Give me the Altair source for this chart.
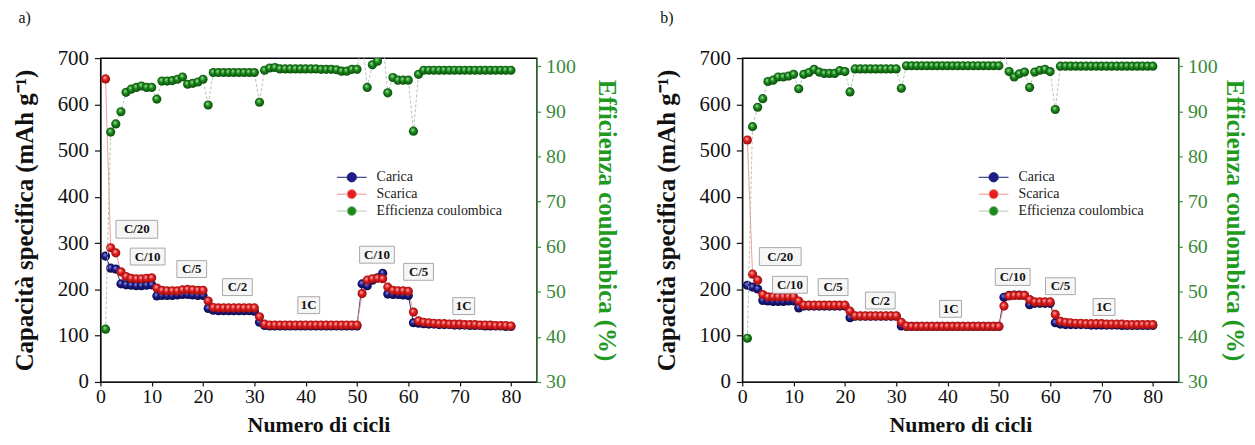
import altair as alt
import pandas as pd

cycles = list(range(1, 81))

# ---------------- panel a ----------------
carica_a = [272, 246, 244, 212, 210, 209, 208, 208, 209, 210,
            186, 187, 187, 187, 188, 189, 189, 188, 187, 187,
            159, 155, 154, 154, 154, 154, 154, 154, 154, 153,
            129, 122, 121, 121, 121, 121, 121, 121, 121, 121,
            121, 121, 121, 121, 121, 121, 121, 121, 121, 121,
            212, 208, 220, 225, 235, 190, 189, 189, 188, 187,
            128, 127, 126, 125, 125, 124, 124, 124, 123, 123,
            123, 122, 122, 122, 121, 121, 121, 121, 120, 120]
scarica_a = [655, 290, 279, 238, 228, 224, 223, 223, 224, 225,
             203, 198, 197, 197, 197, 199, 200, 199, 198, 198,
             175, 161, 160, 160, 160, 160, 160, 160, 160, 160,
             141, 125, 123, 123, 123, 123, 123, 123, 123, 123,
             123, 123, 123, 123, 123, 123, 123, 123, 123, 123,
             191, 220, 223, 224, 223, 205, 198, 197, 197, 196,
             151, 132, 129, 128, 127, 126, 126, 125, 125, 125,
             124, 124, 124, 123, 123, 123, 122, 122, 122, 121]
eff_a = [41.7, 85.4, 87.2, 89.9, 94.2, 94.9, 95.3, 95.6, 95.3, 95.3,
         92.7, 96.7, 96.7, 96.8, 97.1, 97.6, 96.0, 96.2, 96.5, 97.1,
         91.4, 98.6, 98.6, 98.6, 98.6, 98.6, 98.6, 98.6, 98.6, 98.6,
         92.0, 99.1, 99.6, 99.7, 99.4, 99.4, 99.4, 99.4, 99.4, 99.4,
         99.4, 99.4, 99.3, 99.3, 99.3, 99.2, 98.9, 98.9, 99.3, 99.3,
         106.0, 95.3, 100.3, 101.1, 106.0, 94.1, 97.5, 96.9, 96.9, 96.9,
         85.6, 98.2, 99.1, 99.1, 99.1, 99.1, 99.1, 99.1, 99.1, 99.1,
         99.1, 99.1, 99.1, 99.1, 99.1, 99.1, 99.1, 99.1, 99.1, 99.1]
ann_x_a = [7.1, 9.2, 17.8, 26.7, 40.6, 53.9, 62.0, 70.8]
ann_y_a = [330, 271, 244, 205, 166, 275, 238, 164]

# ---------------- panel b ----------------
carica_b = [209, 205, 201, 176, 175, 174, 174, 174, 175, 175,
            160, 164, 164, 164, 164, 164, 164, 164, 164, 164,
            139, 142, 142, 142, 142, 142, 142, 142, 142, 142,
            121, 120, 120, 120, 120, 120, 120, 120, 120, 120,
            120, 120, 120, 120, 120, 120, 120, 120, 120, 120,
            183, 187, 188, 188, 187, 167, 170, 170, 170, 170,
            128, 125, 124, 124, 124, 124, 124, 123, 123, 123,
            123, 123, 123, 122, 122, 122, 122, 122, 122, 122]
scarica_b = [523, 233, 220, 189, 184, 184, 184, 184, 184, 184,
             175, 166, 166, 166, 166, 166, 166, 166, 166, 166,
             153, 143, 143, 143, 143, 143, 143, 143, 143, 143,
             129, 121, 120, 120, 120, 120, 120, 120, 120, 120,
             120, 120, 120, 120, 120, 120, 120, 120, 120, 120,
             164, 186, 187, 187, 187, 178, 173, 173, 173, 173,
             146, 131, 129, 128, 127, 127, 126, 126, 126, 126,
             125, 125, 125, 125, 124, 124, 124, 124, 124, 124]
eff_b = [39.7, 86.6, 90.9, 92.8, 96.6, 96.9, 97.6, 97.6, 97.8, 98.2,
         95.0, 98.2, 98.6, 99.3, 98.7, 98.4, 98.4, 98.4, 99.0, 98.8,
         94.3, 99.4, 99.4, 99.4, 99.4, 99.4, 99.4, 99.4, 99.4, 99.4,
         95.1, 100.1, 100.1, 100.1, 100.1, 100.1, 100.1, 100.1, 100.1, 100.1,
         100.1, 100.1, 100.1, 100.1, 100.1, 100.1, 100.1, 100.1, 100.1, 100.1,
         103.0, 98.8, 97.6, 98.3, 98.7, 95.3, 98.7, 99.1, 99.3, 98.8,
         90.4, 100.0, 100.0, 100.0, 100.0, 100.0, 100.0, 100.0, 100.0, 100.0,
         100.0, 100.0, 100.0, 100.0, 100.0, 100.0, 100.0, 100.0, 100.0, 100.0]
ann_x_b = [7.4, 9.3, 17.7, 26.9, 40.6, 52.7, 62.0, 70.5]
ann_y_b = [271, 210, 205, 176, 158, 227, 207, 162]

ann_labels = ["C/20", "C/10", "C/5", "C/2", "1C", "C/10", "C/5", "1C"]

series_names = ["Carica", "Scarica", "Efficienza coulombica"]
ball_colors = ["#1c1c8c", "#e41e1e", "#1a8a1a"]
line_colors = ["#1c1c6c", "#f09090", "#b0c8b0"]

SERIF = "Liberation Serif"
x_ticks = list(range(0, 81, 10))
left_ticks = list(range(0, 701, 100))
right_ticks = list(range(30, 101, 10))

box_labels = ["C/20", "C/10", "C/5", "C/2", "1C"]
box_paths = ["M-2.1,-0.9H2.1V0.9H-2.1Z", "M-1.75,-0.85H1.75V0.85H-1.75Z",
             "M-1.5,-0.85H1.5V0.85H-1.5Z", "M-1.5,-0.85H1.5V0.85H-1.5Z",
             "M-1.1,-0.85H1.1V0.85H-1.1Z"]

LEG_SYMBOL = "M-2,0H-0.62M0.62,0H2M-0.62,0A0.62,0.62,0,1,1,0.62,0A0.62,0.62,0,1,1,-0.62,0Z"


def grad(hi, mid, dark):
    return alt.RadialGradient(
        gradient="radial", x1=0.4, y1=0.33, r1=0.0, x2=0.5, y2=0.5, r2=0.55,
        stops=[alt.GradientStop(offset=0.0, color=hi),
               alt.GradientStop(offset=0.45, color=mid),
               alt.GradientStop(offset=1.0, color=dark)])


grads = [grad("#9a9af5", "#1c1c8c", "#08083c"),
         grad("#ffc0c0", "#e41e1e", "#8a0c0c"),
         grad("#a8eaa8", "#1a8a1a", "#0a420a")]


def panel(car, sca, eff, ann_x, ann_y, tag, right_pad):
    cap = pd.DataFrame({"cycle": cycles * 2, "value": car + sca,
                        "series": ["Carica"] * 80 + ["Scarica"] * 80})
    effd = pd.DataFrame({"cycle": cycles, "value": eff,
                         "series": ["Efficienza coulombica"] * 80})
    ann = pd.DataFrame({"cycle": ann_x, "value": ann_y, "label": ann_labels})

    xs = alt.Scale(domain=[0, 85], nice=False)
    ls = alt.Scale(domain=[0, 700], nice=False)
    rs = alt.Scale(domain=[30, 101.8], nice=False)

    X = alt.X("cycle:Q", scale=xs, title="Numero di cicli",
              axis=alt.Axis(values=x_ticks, grid=False, tickSize=4, labelPadding=1,
                            labelFontSize=20, titleFontSize=22, titlePadding=8))
    YL = alt.Y("value:Q", scale=ls, title="Capacità specifica (mAh g⁻¹)",
               axis=alt.Axis(values=left_ticks, grid=False, tickSize=6, labelPadding=6,
                             labelFontSize=21, titleFontSize=25, titlePadding=20))
    YR = alt.Y("value:Q", scale=rs, title="Efficienza coulombica (%)",
               axis=alt.Axis(values=right_ticks, grid=False, orient="right",
                             domainColor="#3f8f3f", tickColor="#3f8f3f",
                             labelColor="#3a8a3a", titleColor="#1f9a1f",
                             tickSize=4, labelPadding=5,
                             labelFontSize=20, titleFontSize=25, titlePadding=right_pad))

    leg = alt.Legend(orient="none", legendX=245, legendY=112, title=None,
                     symbolType=LEG_SYMBOL, symbolSize=225, symbolStrokeWidth=1,
                     symbolOpacity=1,
                     labelFont=SERIF, labelFontSize=14, labelColor="#222",
                     labelOffset=17, rowPadding=2)
    fill_enc = alt.Fill("series:N", scale=alt.Scale(domain=series_names, range=ball_colors),
                        legend=leg)
    stroke_enc = alt.Stroke("series:N", scale=alt.Scale(domain=series_names, range=line_colors),
                            legend=leg)

    cap_lines = alt.Chart(cap).mark_line(strokeWidth=0.9, clip=True).encode(
        x=X, y=YL,
        detail="series:N",
        color=alt.Color("series:N", scale=alt.Scale(domain=series_names, range=line_colors),
                        legend=None))
    # legend carrier: no rows drawn, the legend comes from the explicit scale domain
    cap_leg = alt.Chart(cap).transform_filter("datum.cycle < 0").mark_point(
        filled=True, size=225, opacity=1, clip=True).encode(
        x=X, y=YL, fill=fill_enc, stroke=stroke_enc)
    blue = alt.Chart(cap).transform_filter(alt.datum.series == "Carica").mark_circle(
        size=85, fill=grads[0], opacity=1, clip=True).encode(x=X, y=YL)
    red = alt.Chart(cap).transform_filter(alt.datum.series == "Scarica").mark_circle(
        size=85, fill=grads[1], opacity=1, clip=True).encode(x=X, y=YL)
    boxes = alt.Chart(ann).mark_point(filled=True, fill="#f6f6f6", stroke="#a8a8a8",
                                      strokeWidth=1, size=400, opacity=1).encode(
        x=X, y=YL,
        shape=alt.Shape("label:N", scale=alt.Scale(domain=box_labels, range=box_paths),
                        legend=None))
    texts = alt.Chart(ann).mark_text(font=SERIF, fontWeight="bold", fontSize=13,
                                     color="#111").encode(
        x=X, y=YL, text="label:N")

    left_group = alt.layer(cap_lines, cap_leg, blue, red, boxes, texts)

    eff_line = alt.Chart(effd).mark_line(strokeWidth=0.9, clip=True, color="#a8c0a8",
                                         strokeDash=[3, 2]).encode(x=X, y=YR)
    eff_leg = alt.Chart(effd).transform_filter("datum.cycle < 0").mark_point(
        filled=True, size=225, opacity=1, clip=True).encode(
        x=X, y=YR, fill=fill_enc, stroke=stroke_enc)
    green = alt.Chart(effd).mark_circle(size=85, fill=grads[2], opacity=1, clip=True).encode(
        x=X, y=YR)
    right_group = alt.layer(eff_line, eff_leg, green)

    return alt.layer(left_group, right_group).resolve_scale(y="independent").properties(
        width=439, height=326,
        title=alt.TitleParams(tag, anchor="start", frame="bounds", font=SERIF,
                              fontSize=16, fontWeight="normal", color="#111",
                              offset=21, dx=6))


pa = panel(carica_a, scarica_a, eff_a, ann_x_a, ann_y_a, "a)", 18)
pb = panel(carica_b, scarica_b, eff_b, ann_x_b, ann_y_b, "b)", 4)

chart = alt.hconcat(pa, pb, spacing=34).resolve_scale(
    fill="independent", stroke="independent"
).properties(
    padding={"left": 3, "top": 0, "right": 0, "bottom": 0}
).configure_view(
    stroke="black", strokeWidth=1.3
).configure_axis(
    labelFont=SERIF, titleFont=SERIF,
    titleFontWeight="bold", labelColor="#111", titleColor="#111",
    domainColor="#111", tickColor="#111", domainWidth=1.3, tickWidth=1.2,
    labelFlush=False, grid=False
)

chart.save("out.html", embed_options={"renderer": "svg", "actions": False})
